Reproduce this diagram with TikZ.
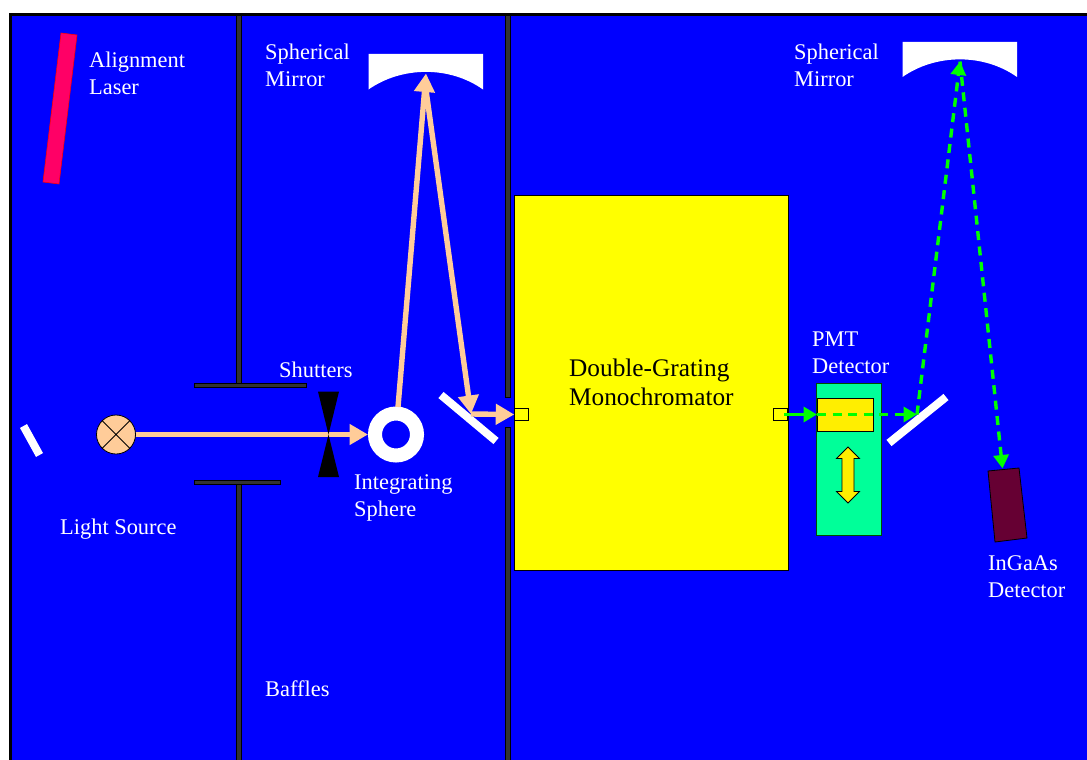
\documentclass[tikz,border=0pt]{standalone}
\usepackage{fontspec}
\setmainfont{Liberation Serif}
\usetikzlibrary{arrows.meta}
\definecolor{peach}{HTML}{FFCC99}
\definecolor{wallgrey}{HTML}{333333}
\definecolor{pmtgreen}{HTML}{00FF99}
\definecolor{laserpink}{HTML}{FF0066}
\definecolor{detmaroon}{HTML}{660033}
\definecolor{gold}{HTML}{FFEE00}
\definecolor{monoyellow}{HTML}{FFFF00}
\definecolor{bgblue}{HTML}{0000FF}
\definecolor{beamgreen}{HTML}{00FF00}
\tikzset{
  x=1pt,y=-1pt,
  label/.style={text=white,anchor=base west,inner sep=0pt,align=left,font=\fontsize{22.4}{27}\selectfont},
  biglabel/.style={text=black,anchor=base west,inner sep=0pt,align=left,font=\fontsize{25.3}{29}\selectfont},
  wall/.style={fill=wallgrey,draw=black,line width=0.8pt},
  flat/.style={draw=white,line width=8pt},
  curved/.style={fill=white,draw=none},
  beam/.style={draw=peach,line width=5.4pt,-{Triangle[length=18.5pt,width=20pt,fill=peach]}},
  gbeam/.style={draw=beamgreen,line width=3.4pt,-{Triangle[length=13.5pt,width=15pt,fill=beamgreen]}},
  gdash/.style={gbeam,dash pattern=on 9pt off 6.5pt},
  slit/.style={fill=monoyellow,draw=black,line width=0.8pt,minimum width=14.5pt,minimum height=12.5pt,inner sep=0pt,outer sep=0pt},
}
\begin{document}
\begin{tikzpicture}
\useasboundingbox (0,0) rectangle (1087,760);
% background
\fill[bgblue] (10,14) rectangle (1087,760);
\draw[black,line width=3pt] (10.5,760) -- (10.5,14.5) -- (1087,14.5);
% baffles
\filldraw[wall] (236,15) rectangle (241,384);
\filldraw[wall] (194,383.7) rectangle (306.5,387.7);
\filldraw[wall] (194,480.2) rectangle (280.5,484.2);
\filldraw[wall] (236,484) rectangle (241,760);
\filldraw[wall] (505,15) rectangle (510,397);
\filldraw[wall] (505,427) rectangle (510,760);
% laser
\filldraw[fill=laserpink,draw=red,line width=0.6pt] (61,33) -- (77,35) -- (59,184) -- (43,182) -- cycle;
% monochromator
\node[fill=monoyellow,draw=black,line width=0.8pt,minimum width=274pt,minimum height=375pt,inner sep=0pt,outer sep=0pt] (mono) at (651,382.5) {};
\node[slit] (slitin) at (521.5,414.5) {};
\node[slit] (slitout) at (780.5,414.5) {};
% mirrors
\path[curved] (368.5,54) -- (483,54) -- (483,89.5) .. controls (450,66) and (402,66) .. (368.5,89.5) -- cycle;
\coordinate (mirrorA) at (426,73.5);
\coordinate (mirrorAfoot) at (426,90);
\path[curved] (902.5,42) -- (1017,42) -- (1017,77) .. controls (984,53.5) and (936,53.5) .. (902.5,77) -- cycle;
\coordinate (mirrorB) at (960,61.5);
% flat mirrors
\draw[flat] (23.5,426) -- (39.5,455);
\draw[flat] (441,395) -- (496,441);
\draw[flat] (946,397) -- (889,443);
% lamp
\node[circle,fill=peach,draw=black,line width=0.8pt,minimum size=39pt,inner sep=0pt,outer sep=0pt] (lamp) at (116,434.5) {};
\draw[black,line width=0.8pt] (lamp.45) -- (lamp.225) (lamp.135) -- (lamp.315);
% sphere
\node[circle,draw=white,line width=14pt,fill=bgblue,minimum size=42pt,inner sep=0pt,outer sep=0pt] (sphere) at (396,434.5) {};
\coordinate (sphereW) at (368,434.5);
\coordinate (sphereT) at (398,407);
% PMT
\node[fill=pmtgreen,draw=black!70!green,line width=0.8pt,minimum width=65pt,minimum height=152pt,inner sep=0pt,outer sep=0pt] (pmt) at (848.5,459) {};
\node[fill=gold,draw=black,line width=0.8pt,minimum width=56pt,minimum height=33pt,inner sep=0pt,outer sep=0pt] (pmtbox) at (845,414.5) {};
\filldraw[fill=gold,draw=black,line width=0.8pt] (848,447) -- (859.5,458.5) -- (854,458.5) -- (854,491.5) -- (859.5,491.5) -- (848,503) -- (836.5,491.5) -- (842,491.5) -- (842,458.5) -- (836.5,458.5) -- cycle;
% detector
\filldraw[fill=detmaroon,draw=black,line width=0.8pt] (988,471) -- (1019,468) -- (1027,538) -- (995,542) -- cycle;
\coordinate (det) at (1002.5,468.5);
\coordinate (mirrorInA) at (471,414);
\coordinate (mirrorInB) at (917,414.5);
% peach beams
\draw[beam] (lamp.east) -- (sphereW);
\draw[beam] (mirrorInA) -- (slitin.west);
\draw[beam] (mirrorAfoot) -- (mirrorInA);
\draw[beam] (sphereT) -- (mirrorA);
% shutters
\coordinate (shut) at (328.5,434.5);
\fill[black] (318,391.5) -- (339,391.5) -- (shut) -- cycle;
\fill[black] (318,477) -- (339,477) -- (shut) -- cycle;
% green beams
\coordinate (slitoutC) at (784,414.5);
\draw[gbeam] (slitoutC) -- (pmtbox.west);
\draw[gdash] (pmtbox.west) -- (mirrorInB);
\draw[gdash] (mirrorInB) -- (mirrorB);
\draw[gdash] (mirrorB) -- (det);
% labels
\node[label] (l1) at (89,67) {Alignment};
\node[label] (l1b) at (89,94) {Laser};
\node[label] (l2) at (265,59.4) {Spherical};
\node[label] (l2b) at (265,86) {Mirror};
\node[label] (l3) at (794,59.4) {Spherical};
\node[label] (l3b) at (794,86) {Mirror};
\node[label] (l4) at (279,377) {Shutters};
\node[label] (l5) at (354,489) {Integrating};
\node[label] (l5b) at (354,516) {Sphere};
\node[label] (l6) at (60,534) {Light Source};
\node[label] (l7) at (265,696) {Baffles};
\node[label] (l8) at (812,346) {PMT};
\node[label] (l8b) at (812,373) {Detector};
\node[label] (l9) at (988,570) {InGaAs};
\node[label] (l9b) at (988,597) {Detector};
\node[biglabel] (m1) at (569,376) {Double-Grating};
\node[biglabel] (m2) at (569,405.5) {Monochromator};
\end{tikzpicture}
\end{document}
